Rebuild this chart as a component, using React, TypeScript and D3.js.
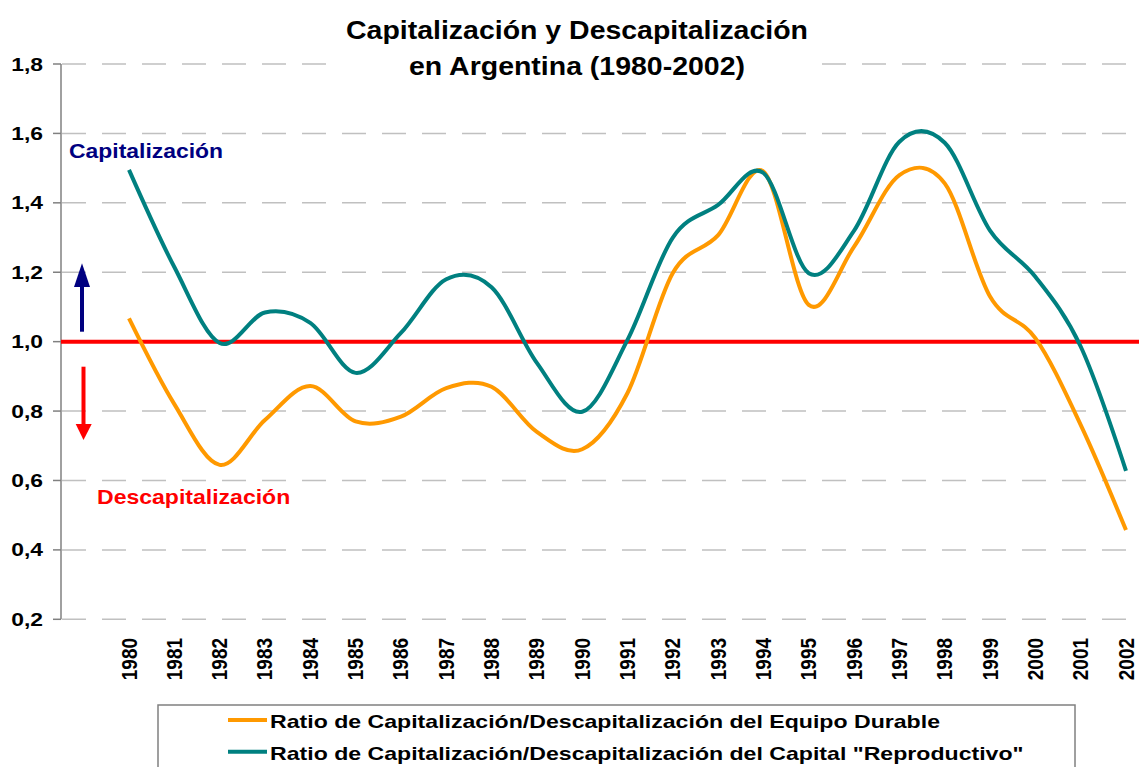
import React from 'react';
import * as d3 from 'd3';

const years = ['1980', '1981', '1982', '1983', '1984', '1985', '1986', '1987', '1988', '1989', '1990', '1991',
  '1992', '1993', '1994', '1995', '1996', '1997', '1998', '1999', '2000', '2001', '2002'];

// Ratio de Capitalización/Descapitalización del Equipo Durable
const equipoDurable = [1.067, 0.82, 0.645, 0.774, 0.872, 0.77, 0.784, 0.866, 0.87, 0.74, 0.69, 0.852,
  1.198, 1.307, 1.49, 1.106, 1.274, 1.48, 1.456, 1.13, 1.01, 0.76, 0.457];

// Ratio de Capitalización/Descapitalización del Capital "Reproductivo"
const capitalReproductivo = [1.495, 1.215, 0.996, 1.084, 1.054, 0.91, 1.025, 1.18, 1.157, 0.939, 0.798, 1.005,
  1.30, 1.394, 1.486, 1.197, 1.32, 1.576, 1.573, 1.32, 1.187, 0.986, 0.628];

const yTicks = [0.2, 0.4, 0.6, 0.8, 1.0, 1.2, 1.4, 1.6, 1.8];

const series = [
  { name: 'Ratio de Capitalización/Descapitalización del Equipo Durable', values: equipoDurable, color: '#FF9900' },
  { name: 'Ratio de Capitalización/Descapitalización del Capital "Reproductivo"', values: capitalReproductivo, color: '#008080' },
];

const W = 1139;
const H = 767;
const FONT = '"Liberation Sans", Arial, sans-serif';

const App: React.FC = () => {
  const x = d3.scalePoint<string>().domain(years).range([129, 1126]);
  const y = d3.scaleLinear().domain([0.2, 1.8]).range([619.3, 64]);
  const axisX = 61;

  const line = d3.line<number>()
    .x((_, i) => x(years[i]) as number)
    .y(d => y(d))
    .curve(d3.curveCatmullRom.alpha(0));

  return (
    <div style={{ position: 'absolute', left: 0, top: 0 }}>
      <svg width={W} height={H} style={{ display: 'block', background: '#fff' }} fontFamily={FONT}>
        {/* grid */}
        {yTicks.map(t => (
          <line key={'g' + t} x1={axisX + 1} x2={1126} y1={y(t)} y2={y(t)}
            stroke="#c0c0c0" strokeWidth={1.5} strokeDasharray="24,16" />
        ))}

        {/* title box */}
        <rect x={338} y={8} width={478} height={80} fill="#fff" />
        <g transform="translate(577,38.5) scale(1.117,1)">
          <text textAnchor="middle" fontSize={25.5} fontWeight="bold" fill="#000">Capitalización y Descapitalización</text>
        </g>
        <g transform="translate(577,75) scale(1.117,1)">
          <text textAnchor="middle" fontSize={25.5} fontWeight="bold" fill="#000">en Argentina (1980-2002)</text>
        </g>

        {/* y axis */}
        <line x1={axisX} x2={axisX} y1={y(1.8)} y2={y(0.2)} stroke="#808080" strokeWidth={1.5} />
        {yTicks.map(t => (
          <g key={'t' + t}>
            <line x1={axisX - 8} x2={axisX} y1={y(t)} y2={y(t)} stroke="#808080" strokeWidth={1.5} />
            <g transform={`translate(43,${y(t) + 6.5}) scale(1.27,1)`}>
              <text textAnchor="end" fontSize={18} fontWeight="bold" fill="#000">
                {t.toFixed(1).replace('.', ',')}
              </text>
            </g>
          </g>
        ))}

        {/* x labels */}
        {years.map(yr => (
          <g key={yr} transform={`translate(${(x(yr) as number) + 7.5},638) rotate(-90)`}>
            <g transform="scale(1,1.2)">
              <text textAnchor="end" fontSize={19} fontWeight="bold" fill="#000">{yr}</text>
            </g>
          </g>
        ))}

        {/* reference line at 1,0 */}
        <line x1={axisX} x2={W} y1={y(1)} y2={y(1)} stroke="#FF0000" strokeWidth={4} />

        {/* series */}
        {series.map(s => (
          <path key={s.name} d={line(s.values) || ''} fill="none" stroke={s.color} strokeWidth={4}
            strokeLinejoin="round" />
        ))}

        {/* annotations */}
        <g transform="translate(69,158.4) scale(1.092,1)">
          <text fontSize={21} fontWeight="bold" fill="#000080">Capitalización</text>
        </g>
        <g transform="translate(97,504) scale(1.097,1)">
          <text fontSize={21} fontWeight="bold" fill="#FF0000">Descapitalización</text>
        </g>
        <line x1={82} x2={82} y1={331.7} y2={284} stroke="#000080" strokeWidth={4} />
        <path d="M74,287 L90,287 L82,263.3 Z" fill="#000080" />
        <line x1={83.5} x2={83.5} y1={366.7} y2={426} stroke="#FF0000" strokeWidth={4} />
        <path d="M75.7,424 L91.7,424 L83.5,440 Z" fill="#FF0000" />

        {/* legend */}
        <rect x={158} y={705} width={917} height={80} fill="#fff" stroke="#808080" strokeWidth={1.5} />
        {series.map((s, i) => (
          <g key={'l' + s.name}>
            <line x1={228} x2={267} y1={720 + i * 31.7} y2={720 + i * 31.7} stroke={s.color} strokeWidth={4} />
            <g transform={`translate(270,${728.3 + i * 31.7}) scale(1.242,1)`}>
              <text fontSize={18.6} fontWeight="bold" fill="#000">{s.name}</text>
            </g>
          </g>
        ))}
      </svg>
    </div>
  );
};

export default App;
